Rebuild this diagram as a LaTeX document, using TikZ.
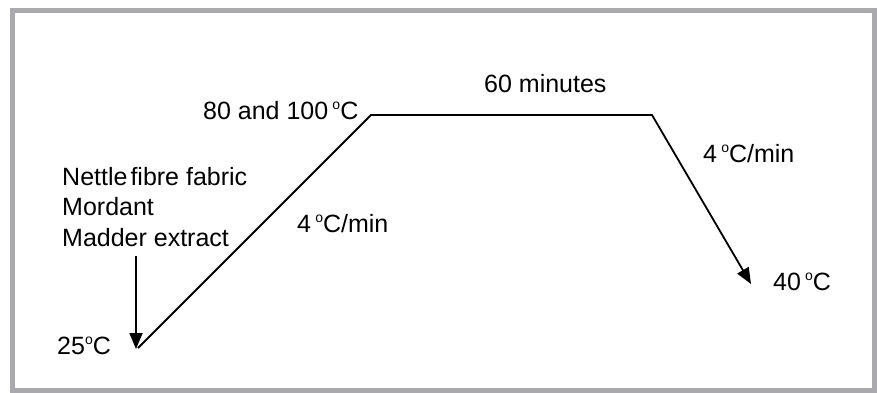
\documentclass[tikz,border=0pt]{standalone}
\usepackage{fontspec}
\setmainfont{Liberation Sans}
\usetikzlibrary{arrows.meta}
\definecolor{framegray}{RGB}{170,170,174}
\newcommand\dgr{\raisebox{10pt}{\fontsize{14}{14}\selectfont o}}
\tikzset{
  lbl/.style={inner sep=0pt, anchor=base west, font=\fontsize{25}{30}\selectfont},
  curve/.style={line width=1.8pt, line join=miter},
  tipped/.style={-{Triangle[length=16pt,width=13pt]}}
}
\begin{document}
\begin{tikzpicture}[x=1pt,y=-1pt]
\useasboundingbox (0,0) rectangle (877,392);
\fill[white] (0,0) rectangle (877,392);
\draw[framegray, line width=5pt] (12,10.5) rectangle (874.5,390);
% labels
\node[lbl] (nettle) at (62,185) {Nettle\hspace{3pt}fibre fabric};
\node[lbl] (mordant) at (62,215.5) {Mordant};
\node[lbl] (madder) at (62,246.5) {Madder extract};
\node[lbl] (t25) at (57,354) {25\dgr C};
\node[lbl] (t80) at (203,119) {80 and 100\,\dgr C};
\node[lbl] (t60) at (484,92) {60 minutes};
\node[lbl] (rateup) at (297,232) {4\,\dgr C/min};
\node[lbl] (ratedown) at (703,162) {4\,\dgr C/min};
\node[lbl] (t40) at (773,290) {40\,\dgr C};
% curve corners
\coordinate (start) at (138,348);
\coordinate (upcorner) at (371,115);
\coordinate (downcorner) at (652,115);
\coordinate (finish) at (751,284);
\coordinate (addtop) at (136,256);
\coordinate (addtip) at (136,349);
\draw[curve, tipped] (start) -- (upcorner) -- (downcorner) -- (finish);
\draw[curve, tipped] (addtop) -- (addtip);
\end{tikzpicture}
\end{document}
